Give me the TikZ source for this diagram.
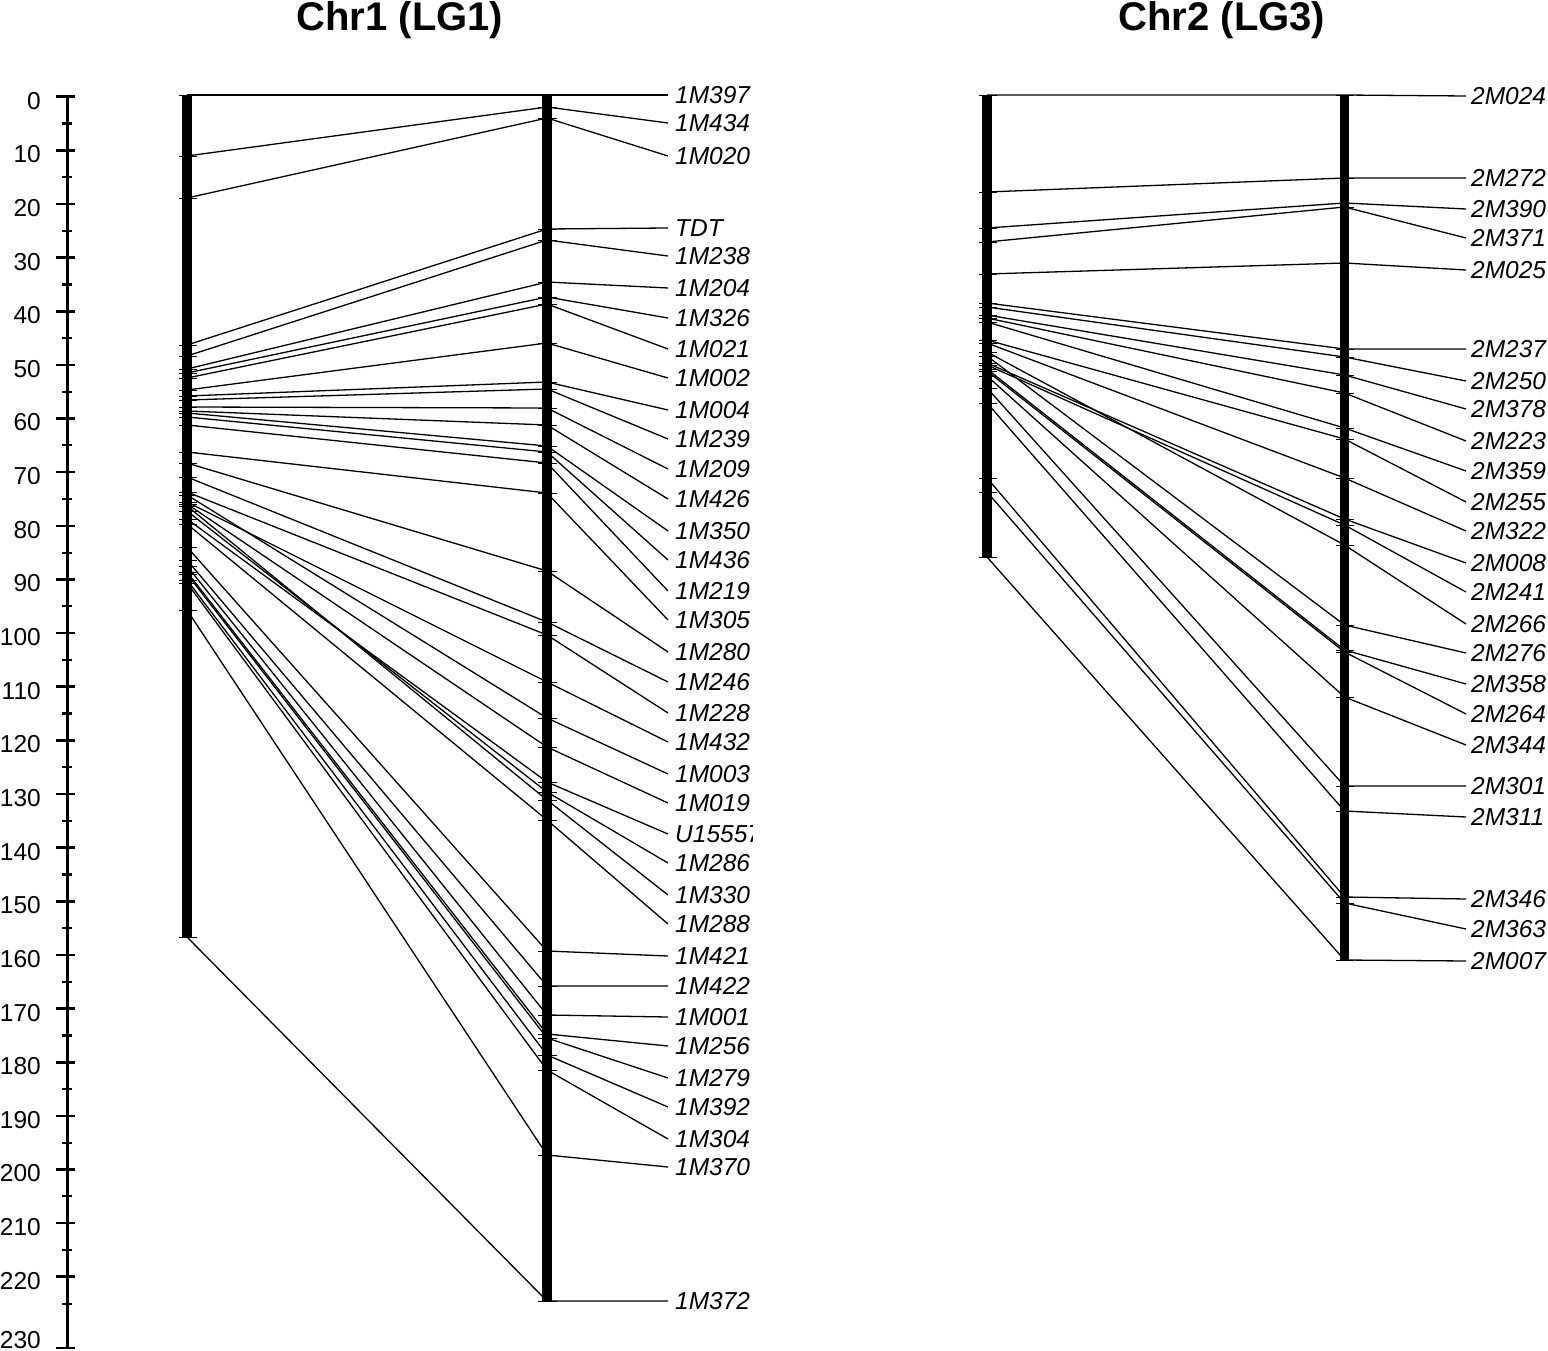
\documentclass[tikz,border=0pt]{standalone}
\usepackage{fontspec}
\setmainfont{Liberation Sans}
\begin{document}
\begin{tikzpicture}[x=1pt,y=-1pt,
  conn/.style={line width=1.3pt},
  chrbar/.style={line width=9.5pt},
  mtick/.style={line width=0.9pt},
  axisline/.style={line width=3pt},
  majtick/.style={line width=2.6pt},
  mintick/.style={line width=2.2pt},
  lab/.style={anchor=west,inner sep=0pt,font=\fontsize{24.5}{24.5}\selectfont\itshape},
  axlab/.style={anchor=east,inner sep=0pt,font=\fontsize{24.5}{24.5}\selectfont},
  title/.style={font=\fontsize{40}{40}\selectfont\bfseries}]
\useasboundingbox (0,0) rectangle (1548,1351);

% titles
\node[title] (t1) at (400,20) {Chr1 (LG1)};
\node[title] (t2) at (1222,20) {Chr2 (LG3)};

% scale axis
\draw[axisline] (67,95.5) -- (67,1349);
\foreach \v in {0,10,...,220} {
  \pgfmathsetmacro\yy{96.7+\v*5.364}
  \draw[majtick] (56,\yy) -- (75,\yy);
  \node[axlab] (ax\v) at (41,\yy+4) {\v};
}
\foreach \v in {5,15,...,225} {
  \pgfmathsetmacro\yy{96.7+\v*5.364}
  \draw[mintick] (62,\yy) -- (72,\yy);
}
\draw[majtick] (56,1348) -- (75,1348);
\node[axlab] (ax230) at (41,1340) {230};

% chromosome bars
\draw[chrbar] (187,95) -- (187,937);
\draw[chrbar] (547,95) -- (547,1301);
\draw[chrbar] (987,95) -- (987,557);
\draw[chrbar] (1344.5,95) -- (1344.5,961);
\draw[mtick] (179,937) -- (197,937);
\draw[mtick] (979,557) -- (997,557);

% Chr1 markers: name / left y / right y / label y
\foreach \nm/\yl/\yr/\yt [count=\i] in {
 1M397/95/95/95, 1M434/156/107/123, 1M020/198/118/156, TDT/345/229/228,
 1M238/356/240/256, 1M204/369/282/288, 1M326/373/297/318, 1M021/378/304/349,
 1M002/390/343/378, 1M004/396/382/410, 1M239/400/389/439, 1M209/407/408/469,
 1M426/411/425/499, 1M350/413/446/531, 1M436/417/452/560, 1M219/425/463/591,
 1M305/452/493/620, 1M280/463/571/652, 1M246/477/622/682, 1M228/492/635/713,
 1M432/502/682/742, 1M003/495/718/774, 1M019/504/747/803, U15557/519/782/834,
 1M286/511/792/863, 1M330/506/800/895, 1M288/524/820/924, 1M421/547/951/956,
 1M422/560/986/986, 1M001/566/1015/1017, 1M256/572/1034/1046, 1M279/574/1038/1078,
 1M392/580/1055/1107, 1M304/583/1070/1139, 1M370/610/1155/1167, 1M372/937/1301/1301} {
  \coordinate (aL\i) at (187,\yl);
  \coordinate (aR\i) at (547,\yr);
  \coordinate (aE\i) at (668,\yt);
  \draw[conn] (aL\i) -- (aR\i) -- (aE\i);
  \draw[mtick] (179,\yl) -- (197,\yl);
  \draw[mtick] (538,\yr) -- (557,\yr);
  \begin{scope}
    \clip (660,0) rectangle (752,1351);
    \node[lab] (aT\i) at (675,\yt) {\nm};
  \end{scope}
}

% Chr2 markers
\foreach \nm/\yl/\yr/\yt [count=\i] in {
 2M024/95/95/96, 2M272/192/178/178, 2M390/228/203/209, 2M371/242/207/238,
 2M025/274/263/270, 2M237/303/349/349, 2M250/307/357/381, 2M378/315/375/409,
 2M223/318/393/441, 2M359/322/428/471, 2M255/340/439/502, 2M322/343/478/531,
 2M008/363/519/563, 2M241/365/525/592, 2M266/352/545/624, 2M276/356/625/653,
 2M358/369/650/684, 2M264/371/652/714, 2M344/376/697/745, 2M301/388/786/786,
 2M311/403/811/817, 2M346/478/897/899, 2M363/492/903/929, 2M007/557/960/961} {
  \coordinate (bL\i) at (987,\yl);
  \coordinate (bR\i) at (1344.5,\yr);
  \coordinate (bE\i) at (1466,\yt);
  \draw[conn] (bL\i) -- (bR\i) -- (bE\i);
  \draw[mtick] (979,\yl) -- (997,\yl);
  \draw[mtick] (1336,\yr) -- (1354,\yr);
  \node[lab] (bT\i) at (1471,\yt) {\nm};
}
\end{tikzpicture}
\end{document}
